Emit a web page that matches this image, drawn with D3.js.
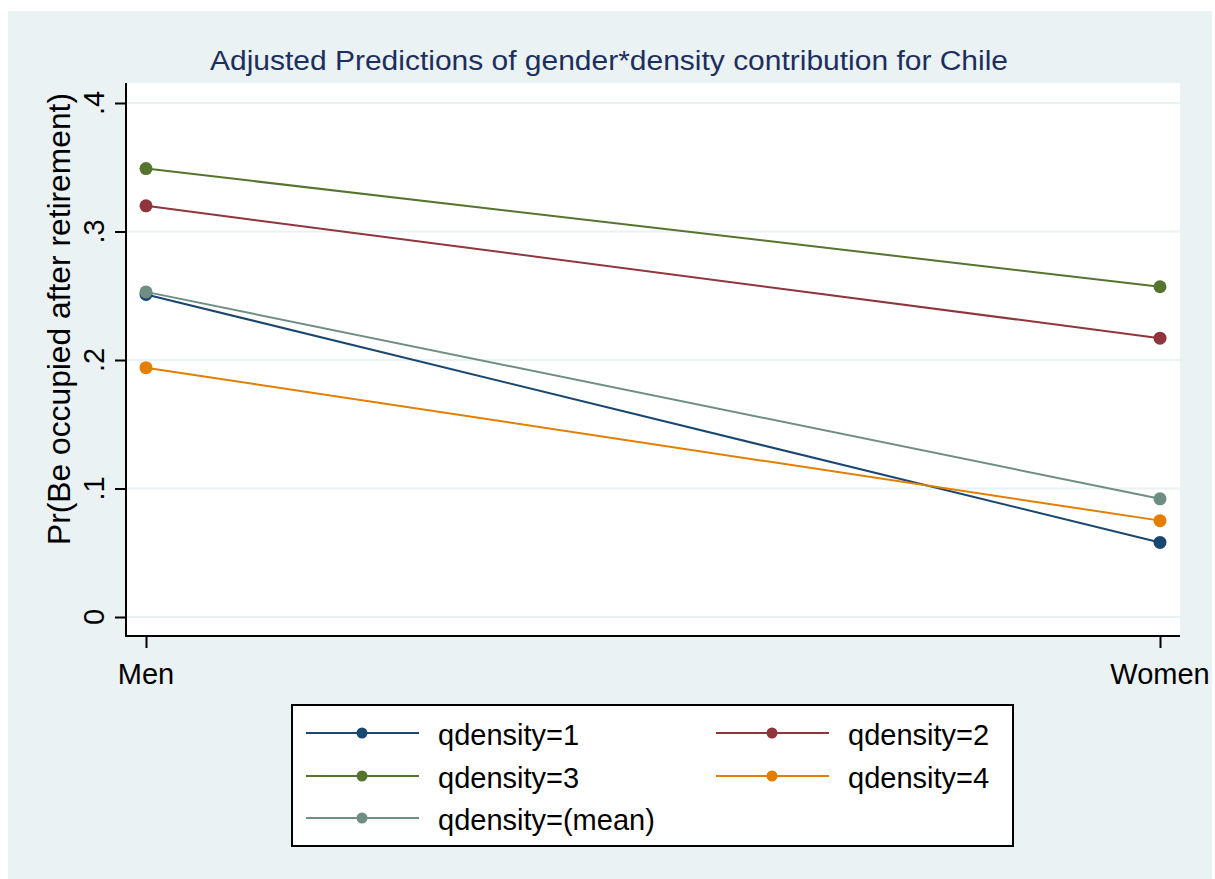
<!DOCTYPE html>
<html><head><meta charset="utf-8">
<script src="https://cdn.jsdelivr.net/npm/d3@7"></script>
<style>body{margin:0;background:#fff}svg{display:block}text{font-family:"Liberation Sans",Arial,sans-serif}</style>
</head><body><svg id="c" width="1215" height="879"></svg>
<script>
const categories = ["Men", "Women"];
const seriesNames = ["qdensity=1", "qdensity=2", "qdensity=3", "qdensity=4", "qdensity=(mean)"];
const q1 = [0.251, 0.058];
const q2 = [0.320, 0.217];
const q3 = [0.349, 0.257];
const q4 = [0.194, 0.075];
const qmean = [0.253, 0.092];
const yTicks = [0, 0.1, 0.2, 0.3, 0.4];
const yTickLabels = ["0", ".1", ".2", ".3", ".4"];
const colors = ["#1a476f", "#90353b", "#55752f", "#e37e00", "#6e8e84"];
const series = [q1, q2, q3, q4, qmean];

const svg = d3.select("#c");
svg.append("rect").attr("x", 8).attr("y", 11).attr("width", 1204).attr("height", 868).attr("fill", "#eaf2f3");

const L = 126, R = 1180, T = 83, B = 636;
svg.append("rect").attr("x", L).attr("y", T).attr("width", R - L).attr("height", B - T).attr("fill", "#fff");

const y = d3.scaleLinear().domain([0, 0.4]).range([617, 103]);
const x = d3.scalePoint().domain(categories).range([146, 1160]);

// gridlines
svg.append("g").selectAll("line").data(yTicks).join("line")
  .attr("x1", L).attr("x2", R).attr("y1", d => y(d)).attr("y2", d => y(d))
  .attr("stroke", "#eaf2f3").attr("stroke-width", 2);

// y axis
const ya = svg.append("g").attr("transform", `translate(${L},0)`)
  .call(d3.axisLeft(y).tickValues(yTicks).tickSize(11).tickFormat(""));
ya.select(".domain").remove();
ya.selectAll(".tick line").attr("stroke", "#000").attr("stroke-width", 2);
svg.append("line").attr("x1", L).attr("x2", L).attr("y1", T).attr("y2", B + 1).attr("stroke", "#000").attr("stroke-width", 2);
svg.append("g").selectAll("text").data(yTicks).join("text")
  .attr("transform", (d) => `translate(104,${y(d)}) rotate(-90)`)
  .attr("text-anchor", "middle").attr("font-size", 29).attr("fill", "#000")
  .text((d, i) => yTickLabels[i]);

// x axis
const xa = svg.append("g").attr("transform", `translate(0,${B})`)
  .call(d3.axisBottom(x).tickSize(12).tickFormat(""));
xa.select(".domain").remove();
xa.selectAll(".tick line").attr("stroke", "#000").attr("stroke-width", 2);
svg.append("line").attr("x1", L - 1).attr("x2", R).attr("y1", B).attr("y2", B).attr("stroke", "#000").attr("stroke-width", 2);
svg.append("g").selectAll("text").data(categories).join("text")
  .attr("x", d => x(d)).attr("y", 684).attr("text-anchor", "middle")
  .attr("font-size", 29).attr("fill", "#000").text(d => d);

// axis title
svg.append("text").attr("transform", "translate(70,319) rotate(-90)")
  .attr("text-anchor", "middle").attr("font-size", 31).attr("fill", "#000")
  .attr("textLength", 452).attr("lengthAdjust", "spacingAndGlyphs")
  .text("Pr(Be occupied after retirement)");

// title
svg.append("text").attr("x", 609).attr("y", 70).attr("text-anchor", "middle")
  .attr("font-size", 27).attr("fill", "#1c2f5e")
  .attr("textLength", 798).attr("lengthAdjust", "spacingAndGlyphs")
  .text("Adjusted Predictions of gender*density contribution for Chile");

// series
const line = d3.line().x((d, i) => x(categories[i])).y(d => y(d));
series.forEach((s, k) => {
  const g = svg.append("g");
  g.append("path").attr("d", line(s)).attr("fill", "none").attr("stroke", colors[k]).attr("stroke-width", 2);
  g.selectAll("circle").data(s).join("circle")
    .attr("cx", (d, i) => x(categories[i])).attr("cy", d => y(d)).attr("r", 6.5).attr("fill", colors[k]);
});

// legend
const lg = svg.append("g");
lg.append("rect").attr("x", 292).attr("y", 705).attr("width", 721).attr("height", 141)
  .attr("fill", "#fff").attr("stroke", "#000").attr("stroke-width", 2);
const rowsY = [733, 776, 818];
const colX = [306, 716];
seriesNames.forEach((n, k) => {
  const cx = colX[k % 2], cy = rowsY[Math.floor(k / 2)];
  lg.append("line").attr("x1", cx).attr("x2", cx + 113).attr("y1", cy).attr("y2", cy).attr("stroke", colors[k]).attr("stroke-width", 2);
  lg.append("circle").attr("cx", cx + 56).attr("cy", cy).attr("r", 5.5).attr("fill", colors[k]);
  lg.append("text").attr("x", cx + 132).attr("y", cy + 12).attr("font-size", 29).attr("fill", "#000").text(n);
});
</script></body></html>
